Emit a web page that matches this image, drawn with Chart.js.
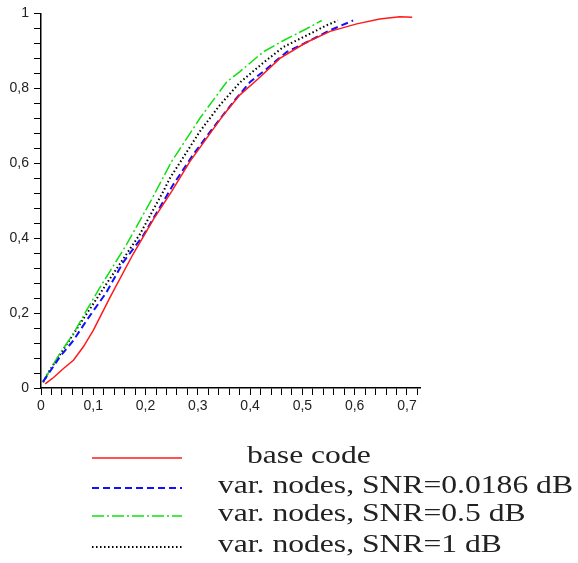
<!DOCTYPE html>
<html>
<head>
<meta charset="utf-8">
<script src="https://cdn.jsdelivr.net/npm/chart.js@4"></script>
<style>
  html, body { margin: 0; padding: 0; background: #fff; }
  canvas { display: block; }
</style>
</head>
<body>
<canvas id="curveChart" width="578" height="563"></canvas>
<script>
// base code
const baseX = [0.008, 0.024, 0.043, 0.062, 0.081, 0.100, 0.116, 0.132, 0.176, 0.215, 0.250, 0.285, 0.317, 0.349, 0.380, 0.415, 0.457, 0.508, 0.553, 0.604, 0.648, 0.686, 0.710];
const baseY = [0.011, 0.028, 0.052, 0.074, 0.110, 0.154, 0.198, 0.242, 0.357, 0.450, 0.525, 0.605, 0.667, 0.729, 0.782, 0.825, 0.880, 0.923, 0.952, 0.972, 0.985, 0.991, 0.990];

// var. nodes, SNR=0.0186 dB
const snr0186X = [0.004, 0.036, 0.062, 0.087, 0.125, 0.157, 0.195, 0.240, 0.253, 0.291, 0.329, 0.368, 0.400, 0.428, 0.470, 0.514, 0.553, 0.597];
const snr0186Y = [0.017, 0.083, 0.127, 0.180, 0.255, 0.335, 0.406, 0.512, 0.543, 0.623, 0.694, 0.764, 0.817, 0.848, 0.897, 0.927, 0.955, 0.981];

// var. nodes, SNR=0.5 dB
const snr05X = [0.004, 0.036, 0.062, 0.087, 0.113, 0.164, 0.208, 0.250, 0.304, 0.355, 0.380, 0.425, 0.463, 0.508, 0.537];
const snr05Y = [0.017, 0.092, 0.145, 0.207, 0.269, 0.384, 0.494, 0.605, 0.720, 0.817, 0.844, 0.897, 0.927, 0.959, 0.981];

// var. nodes, SNR=1 dB
const snr1X = [0.004, 0.017, 0.075, 0.129, 0.189, 0.234, 0.247, 0.304, 0.342, 0.380, 0.419, 0.463, 0.508, 0.546, 0.568];
const snr1Y = [0.015, 0.048, 0.172, 0.286, 0.410, 0.525, 0.561, 0.685, 0.755, 0.815, 0.861, 0.910, 0.941, 0.968, 0.981];

const seriesLabels = ['base code', 'var. nodes, SNR=0.0186 dB', 'var. nodes, SNR=0.5 dB', 'var. nodes, SNR=1 dB'];

function points(xs, ys) {
    return xs.map((x, i) => ({ x: x, y: ys[i] }));
}

function commaLabel(v, per) {
    const k = v * per;
    if (Math.abs(k - Math.round(k)) > 1e-6) return '';
    const r = Math.round(k) / per;
    if (r === 0) return '0';
    if (r === 1) return '1';
    return r.toFixed(1).replace('.', ',');
}

// legend drawn under the plot, line sample on the left and serif text
const bottomLegend = {
    id: 'bottomLegend',
    afterDraw(chart) {
        const ctx = chart.ctx;
        const rows = [458, 488, 516, 547];
        const textX = [247, 218, 218, 218];
        ctx.save();
        ctx.font = '25px "Liberation Serif", serif';
        const sx = 355 / ctx.measureText(seriesLabels[1]).width;
        chart.data.datasets.forEach((ds, i) => {
            const y = rows[i];
            ctx.save();
            ctx.strokeStyle = ds.borderColor;
            ctx.lineWidth = ds.borderWidth;
            ctx.setLineDash(ds.borderDash || []);
            ctx.beginPath();
            ctx.moveTo(92, y);
            ctx.lineTo(182, y);
            ctx.stroke();
            ctx.restore();

            ctx.save();
            ctx.translate(textX[i], y + 5);
            ctx.scale(sx, 1);
            ctx.fillStyle = '#222';
            ctx.textBaseline = 'alphabetic';
            ctx.fillText(ds.label, 0, 0);
            ctx.restore();
        });
        ctx.restore();
    }
};

new Chart(document.getElementById('curveChart'), {
    type: 'line',
    data: {
        datasets: [{
            label: seriesLabels[0],
            data: points(baseX, baseY),
            borderColor: '#ff1a1a',
            borderWidth: 1.5
        }, {
            label: seriesLabels[1],
            data: points(snr0186X, snr0186Y),
            borderColor: '#1010ff',
            borderWidth: 2,
            borderDash: [7, 4]
        }, {
            label: seriesLabels[2],
            data: points(snr05X, snr05Y),
            borderColor: '#10e010',
            borderWidth: 1.5,
            borderDash: [12, 3, 2, 3]
        }, {
            label: seriesLabels[3],
            data: points(snr1X, snr1Y),
            borderColor: '#000',
            borderWidth: 2,
            borderDash: [1.5, 2.5]
        }]
    },
    options: {
        responsive: false,
        animation: false,
        layout: { padding: { top: 11, right: 158, bottom: 150, left: 0 } },
        elements: { point: { radius: 0 }, line: { tension: 0 } },
        plugins: { legend: { display: false }, tooltip: { enabled: false } },
        scales: {
            x: {
                type: 'linear',
                min: 0,
                max: 0.725,
                border: { display: true, color: '#000', width: 1.5 },
                grid: { drawOnChartArea: false, drawTicks: true, tickLength: 7, color: '#000' },
                ticks: {
                    stepSize: 0.02,
                    includeBounds: false,
                    autoSkip: false,
                    maxRotation: 0,
                    padding: 3,
                    color: '#222',
                    font: { family: '"Liberation Sans", Arial, sans-serif', size: 14 },
                    callback: v => commaLabel(v, 10)
                },
                afterFit: s => { s.height = 25; }
            },
            y: {
                type: 'linear',
                min: 0,
                max: 1,
                border: { display: true, color: '#000', width: 1.5 },
                grid: { drawOnChartArea: false, drawTicks: true, tickLength: 7, color: '#000' },
                ticks: {
                    stepSize: 0.04,
                    autoSkip: false,
                    padding: 5,
                    color: '#222',
                    font: { family: '"Liberation Sans", Arial, sans-serif', size: 14 },
                    callback: v => commaLabel(v, 5)
                },
                afterFit: s => { s.width = 41; }
            }
        }
    },
    plugins: [bottomLegend]
});
</script>
</body>
</html>
